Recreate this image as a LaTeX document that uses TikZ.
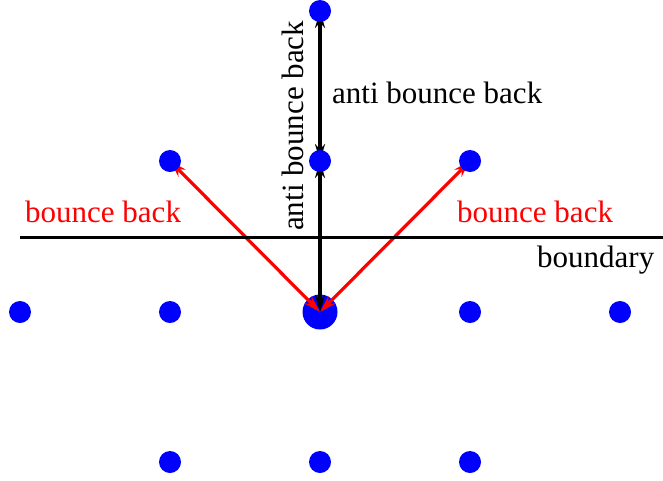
\documentclass[tikz,border=0pt]{standalone}
\usepackage{fontspec}
\setmainfont{Liberation Serif}
\usetikzlibrary{arrows.meta, backgrounds}
\definecolor{lbblue}{HTML}{0000FF}
\definecolor{lbred}{HTML}{FF0000}
\tikzset{
  site/.style={circle, fill=lbblue, inner sep=0pt, minimum size=22pt},
  sitebig/.style={circle, fill=lbblue, inner sep=0pt, minimum size=35pt},
  bb/.style={{Stealth[length=17pt,width=10pt]}-{Stealth[length=17pt,width=10pt]}, draw=lbred, line width=3.2pt},
  abb/.style={{Stealth[length=17pt,width=10pt]}-{Stealth[length=17pt,width=10pt]}, draw=black, line width=3.2pt},
  wall/.style={draw=black, line width=3pt},
  lbl/.style={font=\fontsize{31}{36}\selectfont, inner sep=0pt},
}

\begin{document}
\begin{tikzpicture}[x=1pt, y=-1pt]
      \useasboundingbox (0,0) rectangle (663,480);
      % lattice sites
      \node[site] (top) at (320,11) {};
      \node[site] (nw) at (170,161) {};
      \node[site] (n) at (320,161) {};
      \node[site] (ne) at (470,161) {};
      \node[site] (w2) at (20,312) {};
      \node[site] (w) at (170,312) {};
      \node[site] (e) at (470,312) {};
      \node[site] (e2) at (620,312) {};
      \node[site] (sw) at (170,462) {};
      \node[site] (s) at (320,462) {};
      \node[site] (se) at (470,462) {};
      % boundary
      \coordinate (bl) at (20,237);
      \coordinate (br) at (663,237);
      \draw[wall] (bl) -- (br);
      \begin{pgfonlayer}{background}
        \node[sitebig] (c) at (320,312) {};
        \draw[bb] (c.center) -- (nw.center);
        \draw[bb] (c.center) -- (ne.center);
        \draw[abb] (c.center) -- (n.center);
        \draw[abb] (n.center) -- (top.center);
      \end{pgfonlayer}
      % labels
      \node[lbl, text=lbred, anchor=base west] (bbl) at (25,222) {bounce back};
      \node[lbl, text=lbred, anchor=base west] (bbr) at (457,222) {bounce back};
      \node[lbl, anchor=base west] (bnd) at (537,267) {boundary};
      \node[lbl, anchor=base west] (abbh) at (332,103) {anti bounce back};
      \node[lbl, anchor=base west, rotate=90] (abbv) at (303,231) {anti bounce back};
\end{tikzpicture}
\end{document}
